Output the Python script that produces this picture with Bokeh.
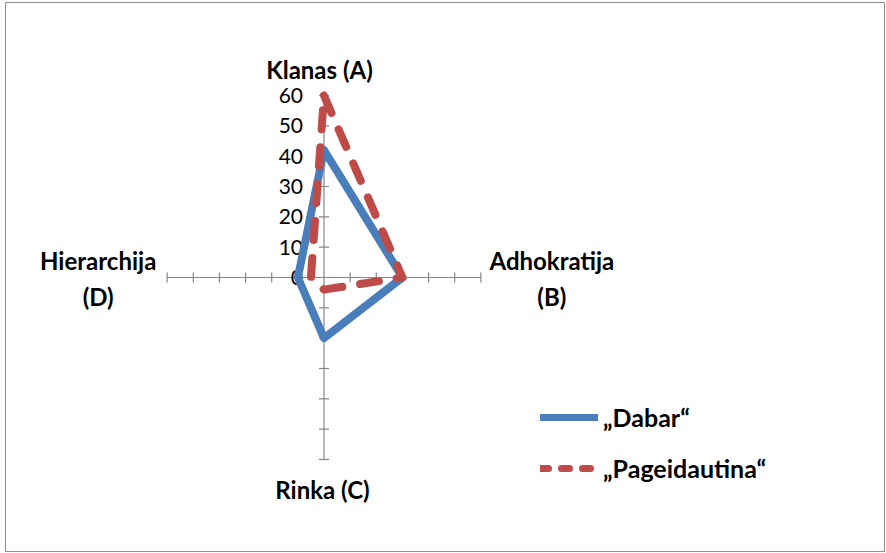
import numpy as np
from bokeh.plotting import figure
from bokeh.models import Range1d, Legend, LegendItem
from bokeh.core.properties import value
from bokeh.embed import file_html
from bokeh.resources import INLINE

# ---- data ----
categories = ["Klanas (A)", "Adhokratija\n(B)", "Rinka (C)", "Hierarchija\n(D)"]
dabar = [42, 30, 20, 10]
pageidautina = [60, 30, 4, 5]
series_names = ["\u201eDabar\u201c", "\u201ePageidautina\u201c"]
tick_values = [0, 10, 20, 30, 40, 50, 60]
tick_labels = ["0", "10", "20", "30", "40", "50", "60"]
r_max = 60

# ---- layout ----
W, H = 886, 553
left_px, right_px, top_px, bottom_px = 5, 884, 2, 551
cx_px, cy_px = 323.5, 277.0
kx, ky = 2.614, 3.033  # px per unit

FONT = "Lato"
GRAY = "#868686"
BLUE = "#4A7EBB"
RED = "#BE4B48"

p = figure(width=W, height=H, output_backend="svg", toolbar_location=None,
           min_border_left=left_px, min_border_right=W - right_px,
           min_border_top=top_px, min_border_bottom=H - bottom_px,
           x_range=Range1d(-(cx_px - left_px) / kx, (right_px - cx_px) / kx),
           y_range=Range1d(-(bottom_px - cy_px) / ky, (cy_px - top_px) / ky))
p.axis.visible = False
p.grid.visible = False
p.outline_line_color = "#8E8E8E"
p.outline_line_width = 1
p.background_fill_color = "white"
p.border_fill_color = "white"

n = len(categories)
theta = np.arange(n) * 2 * np.pi / n
sx, sy = np.sin(theta), np.cos(theta)

# spokes
p.segment(x0=[0] * n, y0=[0] * n, x1=list(r_max * sx), y1=list(r_max * sy),
          line_color=GRAY, line_width=1.2)

# tick marks on spokes
tx, ty, ta = [], [], []
for i in range(n):
    for v in tick_values[1:]:
        tx.append(v * sx[i]); ty.append(v * sy[i])
        ta.append(0 if abs(sx[i]) < 0.5 else np.pi / 2)
p.scatter(x=tx, y=ty, marker="dash", size=10, angle=ta, line_color=GRAY, line_width=1.2)

# value labels on top spoke
p.text(x=[0] * len(tick_values), y=tick_values, text=tick_labels,
       x_offset=-21, y_offset=0, text_align="right", text_baseline="middle",
       text_font=value(FONT), text_font_size="21px", text_color="black")

# category labels
offs = [(-4.5, -26), (71, 1), (-1.5, 30), (-69, 1)]
for i in range(n):
    p.text(x=[r_max * sx[i]], y=[r_max * sy[i]], text=[categories[i]],
           x_offset=offs[i][0], y_offset=offs[i][1],
           text_align="center", text_baseline="middle",
           text_font=value(FONT), text_font_style="bold", text_font_size="24px",
           text_line_height=1.24, text_color="black")

def closed(vals):
    xs = [v * s for v, s in zip(vals, sx)]
    ys = [v * c for v, c in zip(vals, sy)]
    return xs + xs[:1], ys + ys[:1]

bx, by = closed(dabar)
rx, ry = closed(pageidautina)
r1 = p.line(bx, by, line_color=BLUE, line_width=8, line_join="round", line_cap="round")
r2 = p.line(rx, ry, line_color=RED, line_width=8, line_join="round", line_cap="round",
            line_dash="19 18")

# legend swatches (non-drawing renderers carrying the legend's line styles)
lg1 = p.line(x=[float("nan")], y=[float("nan")], line_color=BLUE, line_width=7,
             line_cap="round")
lg2 = p.line(x=[float("nan")], y=[float("nan")], line_color=RED, line_width=7,
             line_cap="round", line_dash="8 13")

legend = Legend(items=[LegendItem(label=series_names[0], renderers=[lg1]),
                       LegendItem(label=series_names[1], renderers=[lg2])],
                location=(535, 68), orientation="vertical",
                glyph_width=58, glyph_height=20, label_height=20, spacing=21,
                label_standoff=5, padding=0, margin=0,
                border_line_color=None, background_fill_alpha=0,
                label_text_font=FONT, label_text_font_style="bold",
                label_text_font_size="25px", label_text_color="black")
p.add_layout(legend)

open("out.html", "w").write(file_html(p, INLINE))
